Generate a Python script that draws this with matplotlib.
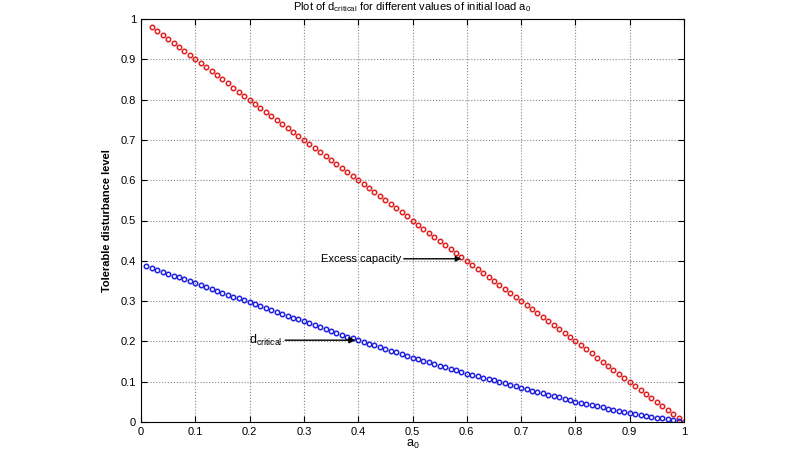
import matplotlib
matplotlib.use("Agg")
import matplotlib.pyplot as plt
import numpy as np

plt.rcParams['font.family'] = ['Liberation Sans', 'DejaVu Sans']
plt.rcParams['mathtext.fontset'] = 'custom'
plt.rcParams['mathtext.rm'] = 'Liberation Sans'

a0_red = [round(0.02 + 0.01*i, 2) for i in range(99)]
excess = [0.98,0.97,0.96,0.95,0.94,0.93,0.92,0.91,0.90,0.89,0.88,0.87,0.86,0.85,0.84,0.83,0.82,0.81,0.80,
          0.79,0.78,0.77,0.76,0.75,0.74,0.73,0.72,0.71,0.70,0.69,0.68,0.67,0.66,0.65,0.64,0.63,0.62,0.61,0.60,
          0.59,0.58,0.57,0.56,0.55,0.54,0.53,0.52,0.51,0.50,0.49,0.48,0.47,0.46,0.45,0.44,0.43,0.42,0.41,0.40,
          0.39,0.38,0.37,0.36,0.35,0.34,0.33,0.32,0.31,0.30,0.29,0.28,0.27,0.26,0.25,0.24,0.23,0.22,0.21,0.20,
          0.19,0.18,0.17,0.16,0.15,0.14,0.13,0.12,0.11,0.10,0.09,0.08,0.07,0.06,0.05,0.04,0.03,0.02,0.01,0.00]
a0_blue = [round(0.01 + 0.01*i, 2) for i in range(99)]
dcrit = [0.386,0.381,0.377,0.372,0.368,0.363,0.359,0.354,0.350,0.345,
         0.340,0.335,0.331,0.326,0.321,0.316,0.311,0.307,0.302,0.297,
         0.292,0.288,0.283,0.278,0.274,0.269,0.264,0.259,0.255,0.250,
         0.245,0.241,0.236,0.231,0.227,0.222,0.217,0.212,0.208,0.203,
         0.199,0.194,0.190,0.186,0.181,0.177,0.173,0.169,0.164,0.160,
         0.156,0.152,0.148,0.144,0.140,0.136,0.132,0.128,0.124,0.120,
         0.117,0.113,0.110,0.106,0.103,0.099,0.096,0.092,0.089,0.085,
         0.082,0.078,0.075,0.071,0.068,0.064,0.061,0.057,0.054,0.050,
         0.047,0.044,0.042,0.039,0.036,0.033,0.030,0.028,0.025,0.022,
         0.020,0.018,0.015,0.013,0.011,0.009,0.007,0.004,0.002]
xticks = [0, 0.1, 0.2, 0.3, 0.4, 0.5, 0.6, 0.7, 0.8, 0.9, 1]
yticks = [0, 0.1, 0.2, 0.3, 0.4, 0.5, 0.6, 0.7, 0.8, 0.9, 1]

fig = plt.figure(figsize=(8, 4.5), dpi=100)
ax = fig.add_axes([141/800, 28/450, 543/800, 403/450])
ax.plot(a0_red, excess, 'o', ls='none', mfc='none', mec='#e02020', ms=3.2, mew=1.1)
ax.plot(a0_blue, dcrit, 'o', ls='none', mfc='none', mec='#2020e0', ms=3.2, mew=1.1)
ax.set_xlim(0, 1)
ax.set_ylim(0, 1)
ax.set_xticks(xticks)
ax.set_yticks(yticks)
ax.set_xticklabels([f"{t:g}" for t in xticks])
ax.set_yticklabels([f"{t:g}" for t in yticks])
ax.tick_params(direction='in', labelsize=8, length=4, top=True, right=True)
ax.grid(True, ls=':', color='#888888', lw=0.8)
for s in ax.spines.values():
    s.set_linewidth(0.8)
ax.set_xlabel(r'$\mathrm{a_0}$', fontsize=9, labelpad=1)
ax.set_ylabel('Tolerable disturbance level', fontsize=8, labelpad=6, fontweight='bold')
ax.set_title(r'Plot of $\mathrm{d_{critical}}$ for different values of initial load $\mathrm{a_0}$', fontsize=8, pad=6)
ax.annotate('Excess capacity', xy=(0.59, 0.405), xytext=(0.331, 0.405), fontsize=8, va='center',
            arrowprops=dict(arrowstyle='-|>', color='black', lw=1.0, shrinkA=0, shrinkB=0))
ax.annotate(r'$\mathrm{d_{critical}}$', xy=(0.395, 0.203), xytext=(0.199, 0.203), fontsize=9, va='center',
            arrowprops=dict(arrowstyle='-|>', color='black', lw=1.0, shrinkA=0, shrinkB=0))
fig.savefig('out.png', dpi=100)
